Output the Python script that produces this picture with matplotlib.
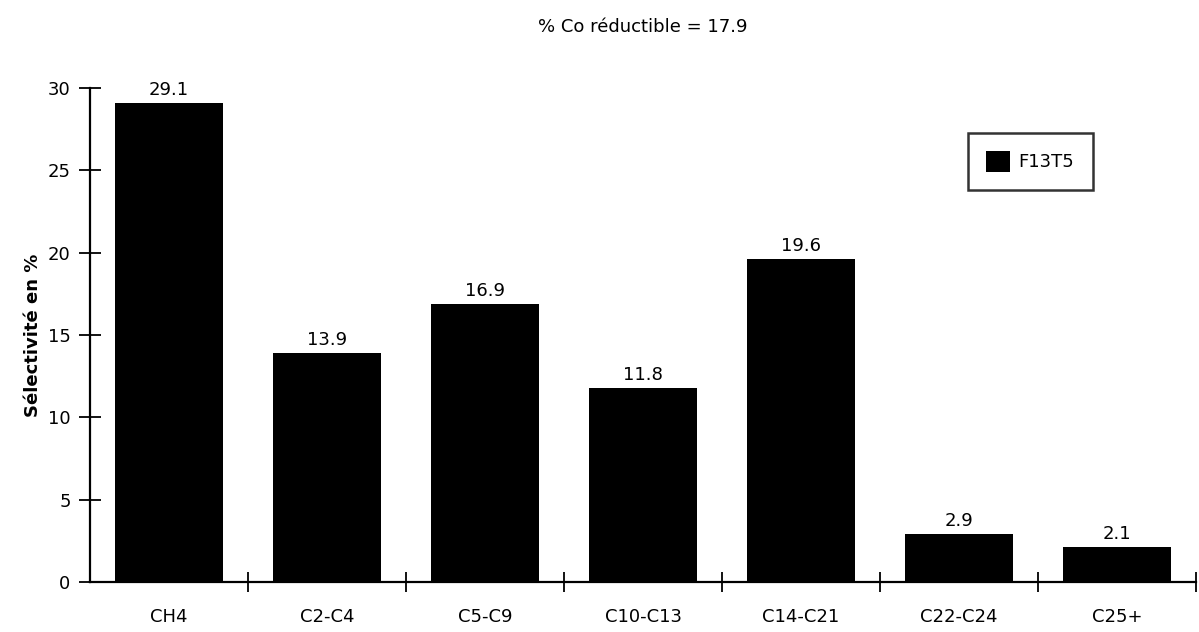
import numpy as np
import matplotlib
matplotlib.use("Agg")
import matplotlib.pyplot as plt
from matplotlib.ticker import FixedLocator

categories = ["CH4", "C2-C4", "C5-C9", "C10-C13", "C14-C21", "C22-C24", "C25+"]
selectivity = [29.1, 13.9, 16.9, 11.8, 19.6, 2.9, 2.1]
series_name = "F13T5"
title = "% Co réductible = 17.9"
y_ticks = [0, 5, 10, 15, 20, 25, 30]

plt.rcParams['font.family'] = ['DejaVu Sans']
fs = 13

fig = plt.figure(figsize=(11.99, 6.32), dpi=100)
ax = fig.add_axes([0.0751, 0.0791, 0.9224, 0.7817])

x = np.arange(len(categories))
bars = ax.bar(x, selectivity, width=0.68, color="black", label=series_name, zorder=2)

# value labels on top of the bars
for xi, v in zip(x, selectivity):
    ax.annotate("%.1f" % v, (xi, v), xytext=(0, 3), textcoords="offset points",
                ha="center", va="bottom", fontsize=fs)

ax.set_xlim(-0.5, len(categories) - 0.5)
ax.set_ylim(0, 30)

ax.spines["top"].set_visible(False)
ax.spines["right"].set_visible(False)
ax.spines["left"].set_linewidth(1.6)
ax.spines["bottom"].set_linewidth(1.6)

ax.set_yticks(y_ticks)
ax.tick_params(axis="y", direction="inout", length=16, width=1.3, labelsize=fs, pad=6)

ax.set_xticks(x)
ax.set_xticklabels(categories)
ax.tick_params(axis="x", which="major", length=0, labelsize=fs, pad=19)
ax.xaxis.set_minor_locator(FixedLocator(np.arange(0.5, len(categories), 1.0)))
ax.tick_params(axis="x", which="minor", direction="inout", length=14, width=1.3)

ax.set_ylabel("Sélectivité en %", fontsize=fs, fontweight="bold", labelpad=4)

fig.text(0.536, 0.957, title, ha="center", va="center", fontsize=fs)

leg = ax.legend(loc="upper left", bbox_to_anchor=(0.794, 0.909), frameon=True,
                fancybox=False, edgecolor="black", fontsize=fs,
                handlelength=1.3, handleheight=1.4, borderpad=1.0, handletextpad=0.5,
                borderaxespad=0)
leg.get_frame().set_linewidth(1.8)

fig.savefig("out.png", dpi=100)
